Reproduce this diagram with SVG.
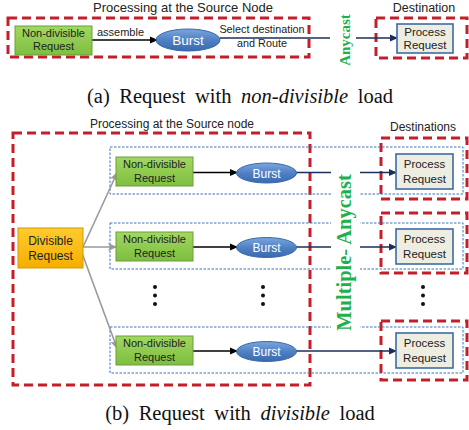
<svg xmlns="http://www.w3.org/2000/svg" width="469" height="430" viewBox="0 0 469 430">
  <style>
    .lbl { font-family: "Liberation Sans", Arial, sans-serif; fill: #222; }
    .hdr { font-family: "Liberation Sans", Arial, sans-serif; fill: #222; }
    .cap { font-family: "Liberation Serif", "Times New Roman", serif; font-size: 20.5px; word-spacing: 4.5px; fill: #111; }
    .red { fill: none; stroke: #C41E2A; stroke-width: 3; stroke-dasharray: 9 5; }
    .dot { fill: none; stroke: #3F73B5; stroke-width: 1; stroke-dasharray: 2.5 1.5; }
    .grn { fill: url(#gGreen); stroke: #6A9F3A; stroke-width: 1; }
    .gold { fill: url(#gGold); stroke: #D69A00; stroke-width: 1; }
    .dst { fill: #EEEDE2; stroke: #3D6CA3; stroke-width: 1.6; }
    .brs { fill: url(#gBlue); stroke: #3B68A6; stroke-width: 1; }
    .bt { font-family: "Liberation Sans", Arial, sans-serif; fill: #fff; text-anchor: middle; }
    .blk { stroke: #000; stroke-width: 1.6; fill: none; }
    .nav { stroke: #1C2F5A; stroke-width: 1.6; fill: none; }
    .gry { stroke: #9A9A9A; stroke-width: 1.6; fill: none; }
    .mc { font-family: "Liberation Serif", "Times New Roman", serif; font-weight: bold; fill: #1DB04B; text-anchor: middle; }
    .c { text-anchor: middle; }
  </style>
  <defs>
    <linearGradient id="gGreen" x1="0" y1="0" x2="0" y2="1">
      <stop offset="0" stop-color="#A2D861"/>
      <stop offset="1" stop-color="#7DBE3F"/>
    </linearGradient>
    <linearGradient id="gGold" x1="0" y1="0" x2="0" y2="1">
      <stop offset="0" stop-color="#FFCB2E"/>
      <stop offset="1" stop-color="#F5AE00"/>
    </linearGradient>
    <linearGradient id="gBlue" x1="0" y1="0" x2="0" y2="1">
      <stop offset="0" stop-color="#7BA6DD"/>
      <stop offset="0.5" stop-color="#4F81C4"/>
      <stop offset="1" stop-color="#3A69AE"/>
    </linearGradient>
    <marker id="aBlk" markerWidth="8" markerHeight="8" refX="7" refY="4" orient="auto" markerUnits="userSpaceOnUse">
      <path d="M0,0.5 L8,4 L0,7.5 Z" fill="#000"/>
    </marker>
    <marker id="aNav" markerWidth="8" markerHeight="8" refX="7" refY="4" orient="auto" markerUnits="userSpaceOnUse">
      <path d="M0,0.5 L8,4 L0,7.5 Z" fill="#1C2F5A"/>
    </marker>
    <marker id="aGry" markerWidth="9" markerHeight="9" refX="8" refY="4.5" orient="auto" markerUnits="userSpaceOnUse">
      <path d="M0,0.5 L9,4.5 L0,8.5 L2,4.5 Z" fill="#9A9A9A"/>
    </marker>
  </defs>

  <!-- ===== (a) non-divisible load ===== -->
  <text class="hdr c" x="183" y="12" font-size="13">Processing at the Source Node</text>
  <text class="hdr c" x="424" y="12" font-size="12.5">Destination</text>
  <rect class="red" x="8" y="18" width="301" height="39"/>
  <rect class="red" x="376" y="18" width="91" height="40"/>

  <g id="connectors-a">
    <line class="blk" x1="92" y1="40" x2="157" y2="40" marker-end="url(#aBlk)"/>
    <line class="nav" x1="220" y1="38" x2="330" y2="38"/>
    <line class="nav" x1="356" y1="38" x2="397" y2="38" marker-end="url(#aNav)"/>
  </g>

  <g id="a-request">
    <rect class="grn" x="15" y="26" width="77" height="29"/>
    <text class="lbl c" x="53.5" y="37" font-size="11">Non-divisible</text>
    <text class="lbl c" x="53.5" y="50" font-size="11">Request</text>
  </g>
  <text class="lbl c" x="120.5" y="36" font-size="11">assemble</text>
  <g id="a-burst">
    <ellipse class="brs" cx="188" cy="40" rx="32" ry="11"/>
    <text class="bt" x="188" y="45" font-size="13.5">Burst</text>
  </g>
  <text class="lbl c" x="262" y="33" font-size="10.8">Select destination</text>
  <text class="lbl c" x="262" y="47" font-size="10.8">and Route</text>
  <text class="mc" transform="translate(350,40) rotate(-90)" font-size="15">Anycast</text>
  <g id="a-dest">
    <rect class="dst" x="397" y="24" width="56" height="29"/>
    <text class="lbl c" x="425" y="36" font-size="11.5">Process</text>
    <text class="lbl c" x="425" y="49" font-size="11.5">Request</text>
  </g>

  <text class="cap c" x="240" y="103">(a) Request with <tspan font-style="italic">non-divisible</tspan> load</text>

  <!-- ===== (b) divisible load ===== -->
  <text class="hdr c" x="172" y="128" font-size="12">Processing at the Source node</text>
  <text class="hdr c" x="423" y="131" font-size="12">Destinations</text>
  <rect class="red" x="13" y="133" width="297" height="252"/>
  <rect class="red" x="381" y="138" width="86" height="61"/>
  <rect class="red" x="381" y="213" width="86" height="60"/>
  <rect class="red" x="381" y="321" width="86" height="59"/>

  <!-- flow rows -->
  <rect class="dot" x="110" y="147" width="353" height="47"/>
  <rect class="dot" x="110" y="223" width="353" height="46"/>
  <rect class="dot" x="110" y="327" width="353" height="46"/>

  <g id="connectors-b">
    <line class="gry" x1="83" y1="247" x2="117" y2="173" marker-end="url(#aGry)"/>
    <line class="gry" x1="83" y1="247" x2="116" y2="247" marker-end="url(#aGry)"/>
    <line class="gry" x1="82" y1="253" x2="117" y2="348" marker-end="url(#aGry)"/>
    <line class="blk" x1="193" y1="172.5" x2="237" y2="172.5" marker-end="url(#aBlk)"/>
    <line class="blk" x1="193" y1="247" x2="237" y2="247" marker-end="url(#aBlk)"/>
    <line class="blk" x1="193" y1="351" x2="237" y2="351" marker-end="url(#aBlk)"/>
    <line class="nav" x1="296" y1="172.5" x2="396" y2="172.5" marker-end="url(#aNav)"/>
    <line class="nav" x1="296" y1="247" x2="396" y2="247" marker-end="url(#aNav)"/>
    <line class="nav" x1="296" y1="351" x2="396" y2="351" marker-end="url(#aNav)"/>
  </g>

  <g id="divisible-request">
    <rect class="gold" x="18" y="228" width="65" height="40"/>
    <text class="lbl c" x="50.5" y="245" font-size="12">Divisible</text>
    <text class="lbl c" x="50.5" y="260" font-size="12">Request</text>
  </g>

  <g id="req-1">
    <rect class="grn" x="116" y="157" width="77" height="29"/>
    <text class="lbl c" x="154.5" y="168" font-size="11">Non-divisible</text>
    <text class="lbl c" x="154.5" y="182" font-size="11">Request</text>
  </g>
  <g id="req-2">
    <rect class="grn" x="116" y="232" width="77" height="29"/>
    <text class="lbl c" x="154.5" y="243" font-size="11">Non-divisible</text>
    <text class="lbl c" x="154.5" y="257" font-size="11">Request</text>
  </g>
  <g id="req-n">
    <rect class="grn" x="116" y="336" width="77" height="29"/>
    <text class="lbl c" x="154.5" y="347" font-size="11">Non-divisible</text>
    <text class="lbl c" x="154.5" y="361" font-size="11">Request</text>
  </g>

  <g id="burst-1">
    <ellipse class="brs" cx="266.5" cy="173" rx="30" ry="10"/>
    <text class="bt" x="266.5" y="177.5" font-size="12">Burst</text>
  </g>
  <g id="burst-2">
    <ellipse class="brs" cx="266.5" cy="247.5" rx="30" ry="10"/>
    <text class="bt" x="266.5" y="252" font-size="12">Burst</text>
  </g>
  <g id="burst-n">
    <ellipse class="brs" cx="266.5" cy="351.5" rx="30" ry="10"/>
    <text class="bt" x="266.5" y="356" font-size="12">Burst</text>
  </g>

  <g id="dest-1">
    <rect class="dst" x="396" y="154" width="57" height="35"/>
    <text class="lbl c" x="424.5" y="168" font-size="11.5">Process</text>
    <text class="lbl c" x="424.5" y="183" font-size="11.5">Request</text>
  </g>
  <g id="dest-2">
    <rect class="dst" x="396" y="229" width="57" height="35"/>
    <text class="lbl c" x="424.5" y="243" font-size="11.5">Process</text>
    <text class="lbl c" x="424.5" y="258" font-size="11.5">Request</text>
  </g>
  <g id="dest-n">
    <rect class="dst" x="396" y="333" width="57" height="35"/>
    <text class="lbl c" x="424.5" y="347" font-size="11.5">Process</text>
    <text class="lbl c" x="424.5" y="362" font-size="11.5">Request</text>
  </g>

  <!-- ellipsis dots -->
  <g fill="#111">
    <circle cx="155" cy="287" r="2"/><circle cx="155" cy="295.5" r="2"/><circle cx="155" cy="304" r="2"/>
    <circle cx="263" cy="287" r="2"/><circle cx="263" cy="295.5" r="2"/><circle cx="263" cy="304" r="2"/>
    <circle cx="423" cy="287" r="2"/><circle cx="423" cy="295.5" r="2"/><circle cx="423" cy="304" r="2"/>
  </g>

  <!-- vertical label over the links -->
  <rect x="331" y="168" width="29" height="169" fill="#fff"/>
  <text class="mc" transform="translate(351,252.5) rotate(-90)" font-size="20.5">Multiple- Anycast</text>

  <text class="cap c" x="240" y="420">(b) Request with <tspan font-style="italic">divisible</tspan> load</text>
</svg>
